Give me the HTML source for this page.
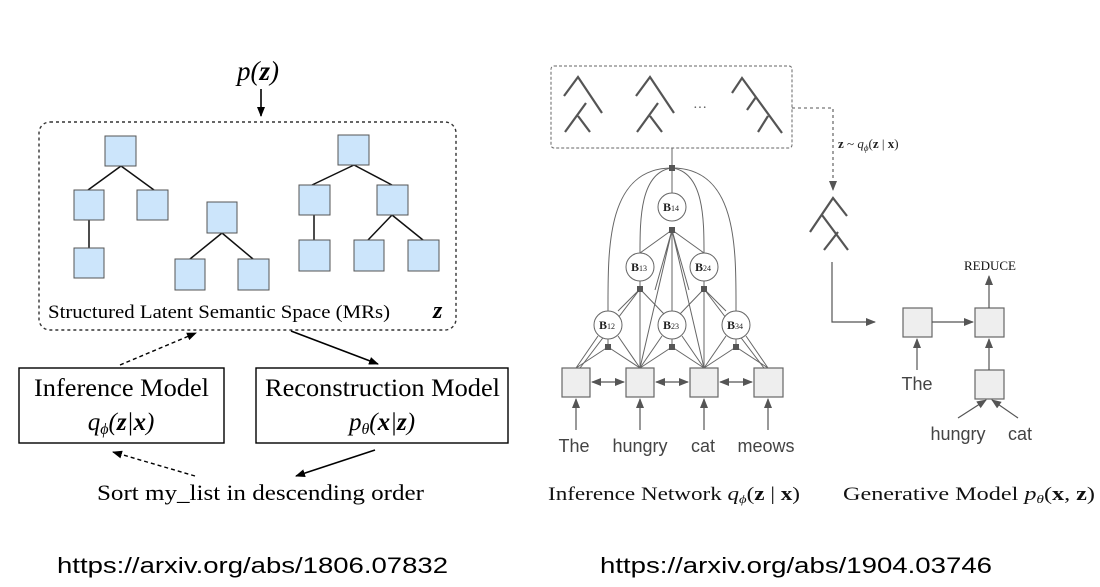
<!DOCTYPE html>
<html><head><meta charset="utf-8"><style>
html,body{margin:0;padding:0;background:#fff;width:1100px;height:587px;overflow:hidden}
svg{display:block}
.s{font-family:"Liberation Serif",serif}
.a{font-family:"Liberation Sans",sans-serif}
</style></head><body>
<svg width="1100" height="587" viewBox="0 0 1100 587" xmlns="http://www.w3.org/2000/svg">
<defs>
<marker id="ab" markerWidth="10" markerHeight="10" refX="9" refY="5" orient="auto" markerUnits="userSpaceOnUse"><path d="M0,1 L10,5 L0,9 z" fill="#000"/></marker>
<marker id="ag" markerWidth="10" markerHeight="10" refX="9" refY="5" orient="auto" markerUnits="userSpaceOnUse"><path d="M0,1 L10,5 L0,9 z" fill="#555"/></marker>
<marker id="ags" markerWidth="10" markerHeight="10" refX="1" refY="5" orient="auto" markerUnits="userSpaceOnUse"><path d="M10,1 L0,5 L10,9 z" fill="#555"/></marker>
</defs>

<!-- LEFT -->
<text x="258" y="80" class="s" font-size="27" font-style="italic" text-anchor="middle">p(<tspan font-weight="bold">z</tspan>)</text>
<line x1="261" y1="89" x2="261" y2="116" stroke="#000" stroke-width="1.6" marker-end="url(#ab)"/>
<rect x="39" y="122" width="417" height="208" rx="11" fill="none" stroke="#333" stroke-width="1.4" stroke-dasharray="3,3"/>
<g stroke="#111" stroke-width="1.5">
<line x1="121" y1="166" x2="88" y2="190"/><line x1="121" y1="166" x2="154" y2="190"/><line x1="89" y1="220" x2="89" y2="248"/>
<line x1="222" y1="233" x2="190" y2="259"/><line x1="222" y1="233" x2="253" y2="259"/>
<line x1="354" y1="165" x2="312" y2="185"/><line x1="354" y1="165" x2="392" y2="185"/><line x1="314" y1="215" x2="314" y2="240"/>
<line x1="392" y1="215" x2="368" y2="240"/><line x1="392" y1="215" x2="423" y2="240"/>
</g>
<g fill="#cce5fb" stroke="#555" stroke-width="1">
<rect x="105" y="136" width="31" height="30"/><rect x="74" y="190" width="30" height="30"/><rect x="137" y="190" width="31" height="30"/><rect x="74" y="248" width="30" height="30"/>
<rect x="207" y="202" width="30" height="31"/><rect x="175" y="259" width="30" height="31"/><rect x="238" y="259" width="31" height="31"/>
<rect x="338" y="135" width="31" height="30"/><rect x="299" y="185" width="31" height="30"/><rect x="377" y="185" width="31" height="30"/>
<rect x="299" y="240" width="31" height="31"/><rect x="354" y="240" width="30" height="31"/><rect x="408" y="240" width="31" height="31"/>
</g>
<text x="48" y="318" class="s" font-size="19" textLength="342" lengthAdjust="spacingAndGlyphs">Structured Latent Semantic Space (MRs)</text>
<text x="433" y="318" class="s" font-size="24" font-style="italic" font-weight="bold">z</text>

<line x1="120" y1="365" x2="196" y2="333" stroke="#000" stroke-width="1.4" stroke-dasharray="4,3" marker-end="url(#ab)"/>
<line x1="291" y1="331" x2="378" y2="364" stroke="#000" stroke-width="1.6" marker-end="url(#ab)"/>
<rect x="19" y="368" width="205" height="75" fill="none" stroke="#000" stroke-width="1.4"/>
<rect x="256" y="368" width="252" height="75" fill="none" stroke="#000" stroke-width="1.4"/>
<text x="34" y="396" class="s" font-size="25" textLength="175" lengthAdjust="spacingAndGlyphs">Inference Model</text>
<text x="121" y="430" class="s" font-size="25" font-style="italic" text-anchor="middle">q<tspan font-size="16" dy="4">ϕ</tspan><tspan dy="-4">(</tspan><tspan font-weight="bold">z</tspan>|<tspan font-weight="bold">x</tspan>)</text>
<text x="265" y="396" class="s" font-size="25" textLength="235" lengthAdjust="spacingAndGlyphs">Reconstruction Model</text>
<text x="382" y="430" class="s" font-size="25" font-style="italic" text-anchor="middle">p<tspan font-size="16" dy="4">θ</tspan><tspan dy="-4">(</tspan><tspan font-weight="bold">x</tspan>|<tspan font-weight="bold">z</tspan>)</text>
<line x1="375" y1="450" x2="296" y2="476" stroke="#000" stroke-width="1.6" marker-end="url(#ab)"/>
<line x1="195" y1="476" x2="113" y2="452" stroke="#000" stroke-width="1.4" stroke-dasharray="4,3" marker-end="url(#ab)"/>
<text x="97" y="500" class="s" font-size="22" textLength="327" lengthAdjust="spacingAndGlyphs">Sort my_list in descending order</text>

<text x="57" y="573" class="a" font-size="22" textLength="391" lengthAdjust="spacingAndGlyphs">https://arxiv.org/abs/1806.07832</text>
<text x="600" y="573" class="a" font-size="22" textLength="392" lengthAdjust="spacingAndGlyphs">https://arxiv.org/abs/1904.03746</text>

<!-- RIGHT -->
<rect x="551" y="66" width="241" height="82" rx="3" fill="none" stroke="#666" stroke-width="1" stroke-dasharray="3,2"/>
<g fill="none" stroke="#555" stroke-width="2.2">
<path d="M564,96 L578,77 L602,113 M565,132 L586,103 M578,116 L590,132"/>
<path d="M636,96 L650,77 L674,113 M637,132 L658,103 M650,116 L662,132"/>
<path d="M732,93 L742,78 L782,133 M747,110 L756,97 M758,132 L768,116"/>
<path d="M810,232 L833,198 L847,216 M822,215 L848,250 M824,250 L838,232"/>
</g>
<text x="700" y="112" class="s" font-size="14" fill="#555" text-anchor="middle">···</text>
<path d="M792,108 L833,108 L833,190" fill="none" stroke="#555" stroke-width="1.1" stroke-dasharray="3,3" marker-end="url(#ag)"/>
<text x="838" y="148" class="s" font-size="13" fill="#222"><tspan font-weight="bold">z</tspan> ~ <tspan font-style="italic">q</tspan><tspan font-size="9" font-style="italic" dy="3">ϕ</tspan><tspan dy="-3">(</tspan><tspan font-weight="bold">z</tspan> | <tspan font-weight="bold">x</tspan>)</text>
<path d="M832,262 L832,322 L875,322" fill="none" stroke="#555" stroke-width="1.2" marker-end="url(#ag)"/>

<!-- chart network -->
<g fill="none" stroke="#666" stroke-width="1">
<line x1="672" y1="148" x2="672" y2="193"/>
<path d="M672,168 C606,168 608,250 608,311"/>
<path d="M672,168 C738,168 736,250 736,311"/>
<path d="M672,168 C640,172 640,220 640,253"/>
<path d="M672,168 C704,172 704,220 704,253"/>
<path d="M672,230 L640,253 M672,230 L704,253 M672,230 L672,311 M672,230 L640,368 M672,230 L704,368 M672,230 L655,290 M672,230 L689,290"/>
<path d="M640,289 L640,368 M640,289 L618,311 M640,289 L664,314 M640,289 L640,281 M640,289 L580,368"/>
<path d="M704,289 L704,368 M704,289 L726,311 M704,289 L680,314 M704,289 L704,281 M704,289 L764,368"/>
<path d="M608,347 L576,368 M608,347 L640,368 M608,339 L608,347 M598,336 L576,368 M618,336 L640,368"/>
<path d="M672,347 L640,368 M672,347 L704,368 M672,339 L672,347 M662,336 L640,368 M682,336 L704,368"/>
<path d="M736,347 L704,368 M736,347 L768,368 M736,339 L736,347 M746,336 L768,368 M726,336 L704,368"/>
</g>
<g fill="#555">
<rect x="669" y="165" width="6" height="6"/><rect x="669" y="227" width="6" height="6"/>
<rect x="637" y="286" width="6" height="6"/><rect x="701" y="286" width="6" height="6"/>
<rect x="605" y="344" width="6" height="6"/><rect x="669" y="344" width="6" height="6"/><rect x="733" y="344" width="6" height="6"/>
</g>
<g fill="#fff" stroke="#666" stroke-width="1">
<circle cx="672" cy="207" r="14"/><circle cx="640" cy="267" r="14"/><circle cx="704" cy="267" r="14"/>
<circle cx="608" cy="325" r="14"/><circle cx="672" cy="325" r="14"/><circle cx="736" cy="325" r="14"/>
</g>
<g class="s" font-size="12" font-weight="bold" fill="#222" text-anchor="middle">
<text x="671" y="211">B<tspan font-size="8" font-weight="normal">14</tspan></text>
<text x="639" y="271">B<tspan font-size="8" font-weight="normal">13</tspan></text>
<text x="703" y="271">B<tspan font-size="8" font-weight="normal">24</tspan></text>
<text x="607" y="329">B<tspan font-size="8" font-weight="normal">12</tspan></text>
<text x="671" y="329">B<tspan font-size="8" font-weight="normal">23</tspan></text>
<text x="735" y="329">B<tspan font-size="8" font-weight="normal">34</tspan></text>
</g>
<g fill="#eee" stroke="#666" stroke-width="1.2">
<rect x="562" y="368" width="28" height="29"/><rect x="626" y="368" width="28" height="29"/><rect x="690" y="368" width="28" height="29"/><rect x="754" y="368" width="29" height="29"/>
</g>
<g stroke="#555" stroke-width="1.2">
<line x1="592" y1="382" x2="624" y2="382" marker-start="url(#ags)" marker-end="url(#ag)"/>
<line x1="656" y1="382" x2="688" y2="382" marker-start="url(#ags)" marker-end="url(#ag)"/>
<line x1="720" y1="382" x2="752" y2="382" marker-start="url(#ags)" marker-end="url(#ag)"/>
<line x1="576" y1="430" x2="576" y2="399" marker-end="url(#ag)"/>
<line x1="640" y1="430" x2="640" y2="399" marker-end="url(#ag)"/>
<line x1="704" y1="430" x2="704" y2="399" marker-end="url(#ag)"/>
<line x1="768" y1="430" x2="768" y2="399" marker-end="url(#ag)"/>
</g>
<g class="a" font-size="18" fill="#444" text-anchor="middle">
<text x="574" y="452">The</text><text x="640" y="452">hungry</text><text x="703" y="452">cat</text><text x="766" y="452">meows</text>
</g>

<!-- generative -->
<g fill="#eee" stroke="#666" stroke-width="1.2">
<rect x="903" y="308" width="29" height="29"/><rect x="975" y="308" width="29" height="29"/><rect x="975" y="370" width="29" height="29"/>
</g>
<g stroke="#555" stroke-width="1.2">
<line x1="932" y1="322" x2="973" y2="322" marker-end="url(#ag)"/>
<line x1="989" y1="370" x2="989" y2="339" marker-end="url(#ag)"/>
<line x1="989" y1="308" x2="989" y2="276" marker-end="url(#ag)"/>
<line x1="917" y1="370" x2="917" y2="339" marker-end="url(#ag)"/>
<line x1="958" y1="418" x2="986" y2="400" marker-end="url(#ag)"/>
<line x1="1018" y1="418" x2="992" y2="400" marker-end="url(#ag)"/>
</g>
<text x="990" y="270" class="s" font-size="13" fill="#111" text-anchor="middle">REDUCE</text>
<text x="917" y="390" class="a" font-size="18" fill="#444" text-anchor="middle">The</text>
<text x="958" y="440" class="a" font-size="18" fill="#444" text-anchor="middle">hungry</text>
<text x="1020" y="440" class="a" font-size="18" fill="#444" text-anchor="middle">cat</text>

<text x="548" y="500" class="s" font-size="19" fill="#111" textLength="252" lengthAdjust="spacingAndGlyphs">Inference Network <tspan font-style="italic">q</tspan><tspan font-size="12" font-style="italic" dy="3">ϕ</tspan><tspan dy="-3">(</tspan><tspan font-weight="bold">z</tspan> | <tspan font-weight="bold">x</tspan>)</text>
<text x="843" y="500" class="s" font-size="19" fill="#111" textLength="252" lengthAdjust="spacingAndGlyphs">Generative Model <tspan font-style="italic">p</tspan><tspan font-size="12" font-style="italic" dy="3">θ</tspan><tspan dy="-3">(</tspan><tspan font-weight="bold">x</tspan>, <tspan font-weight="bold">z</tspan>)</text>
</svg>
</body></html>
